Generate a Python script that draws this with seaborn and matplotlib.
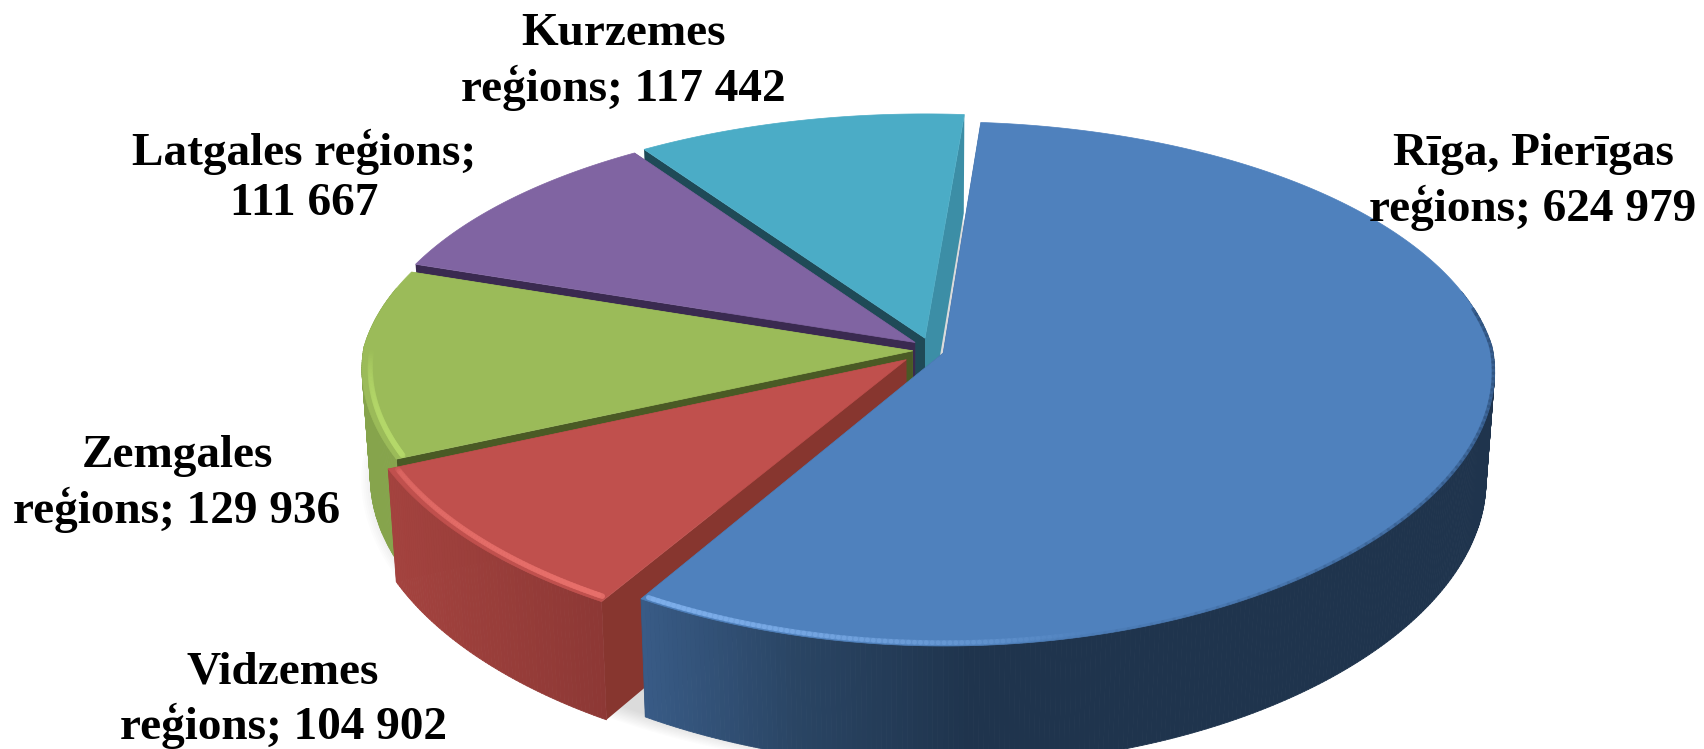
import numpy as np
import matplotlib
matplotlib.use("Agg")
import matplotlib.pyplot as plt
from matplotlib.collections import LineCollection, PolyCollection
from matplotlib.colors import to_rgb
from matplotlib.patches import Polygon
import seaborn as sns

# slices in drawing order around the pie, clockwise from the top
regions = ["Rīga, Pierīgas\nreģions", "Vidzemes\nreģions", "Zemgales\nreģions",
           "Latgales reģions", "Kurzemes\nreģions"]
values = [624979, 104902, 129936, 111667, 117442]
top_colors = ["#4f81bd", "#c0504d", "#9bbb59", "#8064a2", "#4bacc6"]
edge_colors = ["#1f344d", "#87362f", "#4a5a25", "#3a2a50", "#1f4a57"]
wall_stops = [["#1f344d", "#1f344d", "#2a4564", "#3b5f8c"], ["#8d3835", "#a4433f"],
              ["#86a44c", "#86a44c"], ["#4d3c62", "#4d3c62"], ["#3c8ea6", "#3c8ea6"]]
label_xy = [(1533, 182), (283, 700), (177, 484), (304, 177), (623, 62)]
# how far each slice is pulled out of the pie, in disc units
explode = [(0.033, 0.024), (-0.034, 0.05), (-0.022, 0.015), (-0.018, -0.018), (0.0, -0.035)]
stretch = [1.02, 1, 1, 1, 1]

# view of the tilted disc, in pixels
CX, CY = 925, 347
RX, RY = 549, 252
TILT = 0.115
DEPTH = 108
START = 4.6


def project(px, py, bottom=False):
    w = 1 - TILT * py
    wx = 1 - TILT * py * np.where(py > 0, 0.6, 1.0)
    sx, sy = RX * px / wx, RY * py / w
    if bottom:
        sx, sy = sx * 0.985, sy * 1.04 + DEPTH
    return CX + sx, CY + sy


def on_circle(a, r=1.0):
    a = np.radians(a)
    return r * np.sin(a), -r * np.cos(a)


sns.set_theme(style="white")
plt.rcParams["font.family"] = ["Liberation Serif", "DejaVu Serif"]

fig = plt.figure(figsize=(17.04, 7.49), dpi=100)
ax = fig.add_axes([0, 0, 1, 1])
ax.set_xlim(0, 1704)
ax.set_ylim(749, 0)
ax.axis("off")

# --- soft shadow under the disc ---
ring = np.linspace(0, 360, 240)
for scale in np.linspace(1.04, 1.0, 12):
    sx, sy = project(*on_circle(ring, scale), bottom=True)
    ax.add_patch(Polygon(np.c_[sx, sy + 5], fc="#000000", ec="none", alpha=0.013, zorder=1))

sweeps = 360 * np.array(values) / sum(values)
starts = START + np.r_[0, np.cumsum(sweeps)[:-1]]

# the big slice sits in front of the others, so it is painted last
for i in [4, 3, 2, 1, 0]:
    a0, a1 = starts[i], starts[i] + sweeps[i]
    ox, oy = explode[i]
    ts = np.linspace(a0, a1, max(int(sweeps[i] * 2), 30))
    px, py = on_circle(ts)
    px, py = px + ox, py * stretch[i] + oy
    tx, ty = project(px, py)
    bx, by = project(px, py, bottom=True)
    ax_top = project(ox, oy)
    ax_bot = project(ox, oy, bottom=True)
    z = 10 + (4 - i) * 3 if i else 30

    # radial faces
    ax.add_patch(Polygon([ax_top, (tx[-1], ty[-1]), (bx[-1], by[-1]), ax_bot],
                         fc=wall_stops[i][0], ec="none", zorder=z))
    ax.add_patch(Polygon([ax_top, (tx[0], ty[0]), (bx[0], by[0]), ax_bot],
                         fc=edge_colors[i], ec="none", zorder=z + 0.1))

    # outer wall, shaded along its length; only the part facing the viewer
    shades = sns.blend_palette(wall_stops[i], 200)
    quads, cols = [], []
    for k in range(len(ts) - 1):
        if np.cos(np.radians(ts[k])) > 0.25:
            continue
        quads.append([(tx[k], ty[k]), (tx[k + 1], ty[k + 1]), (bx[k + 1], by[k + 1]), (bx[k], by[k])])
        u = (min(tx[k], 1150) - 620) / 530 if i == 0 else (603 - tx[k]) / 213
        cols.append(shades[int(np.clip(1 - u if i == 0 else u, 0, 1) * 199)])
    ax.add_collection(PolyCollection(quads, facecolors=cols, edgecolors=cols, linewidths=0.6, zorder=z + 0.2))

    # top surface
    ax.add_patch(Polygon(np.r_[[ax_top], np.c_[tx, ty]], fc=top_colors[i], ec=top_colors[i], lw=0.5, zorder=z + 0.3))


def rim(i, a_from, a_to, color, alpha_from, alpha_to, lw, r=0.99):
    ox, oy = explode[i]
    ts = np.linspace(a_from, a_to, 80)
    px, py = on_circle(ts, r)
    sx, sy = project(px + ox, py * stretch[i] + oy)
    pts = np.c_[sx, sy]
    segs = np.stack([pts[:-1], pts[1:]], axis=1)
    rgba = [(*to_rgb(color), al) for al in np.linspace(alpha_from, alpha_to, 79)]
    base = 30 if i == 0 else 10 + (4 - i) * 3
    ax.add_collection(LineCollection(segs, colors=rgba, linewidths=lw, capstyle="round", zorder=base + 0.5))


# bevel highlights and the blurred edge of the top
rim(0, starts[1] - 0.5, 165, "#7fb0ec", 0.85, 0.0, 3.5)
rim(0, 175, 80, "#2d4f7a", 0.0, 0.7, 2.5, r=0.998)
rim(1, starts[1] + 0.5, starts[2] - 0.5, "#e8706b", 0.85, 0.3, 4.0, r=0.985)
rim(2, starts[2] + 0.5, starts[2] + 25, "#b5d96a", 0.8, 0.0, 4.0, r=0.985)

for name, val, (x, y) in zip(regions, values, label_xy):
    txt = f"{val:,}".replace(",", " ")
    sep = "\n" if "\n" not in name and "Latgales" in name else " "
    ax.text(x, y, f"{name};{sep}{txt}", ha="center", va="center", fontsize=34,
            fontweight="bold", color="black", linespacing=1.25, zorder=50)

fig.savefig("out.png", dpi=100, facecolor="white")
